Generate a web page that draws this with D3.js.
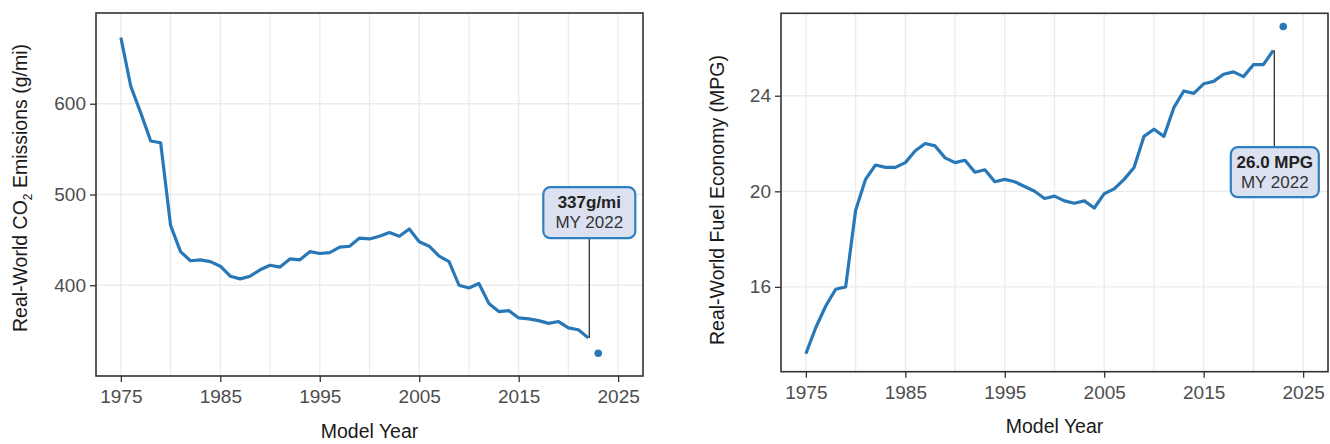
<!DOCTYPE html>
<html>
<head>
<meta charset="utf-8">
<script src="https://cdn.jsdelivr.net/npm/d3@7"></script>
<style>
  body { margin: 0; background: #fff; }
  svg { font-family: "Liberation Sans", Arial, sans-serif; display: block; }
</style>
</head>
<body>
<div id="chart"></div>
<script>
// model years for the main series
const years = [1975, 1976, 1977, 1978, 1979, 1980, 1981, 1982, 1983, 1984,
  1985, 1986, 1987, 1988, 1989, 1990, 1991, 1992, 1993, 1994,
  1995, 1996, 1997, 1998, 1999, 2000, 2001, 2002, 2003, 2004,
  2005, 2006, 2007, 2008, 2009, 2010, 2011, 2012, 2013, 2014,
  2015, 2016, 2017, 2018, 2019, 2020, 2021, 2022];

// real-world CO2 (g/mi)
const co2Values = [673, 619, 590, 559, 557, 466, 437, 427, 428, 426,
  421, 410, 407, 410, 417, 422, 420, 429, 428, 437,
  435, 436, 442, 443, 452, 451, 454, 458, 454, 462,
  448, 443, 432, 426, 400, 397, 402, 380, 371, 372,
  364, 363, 361, 358, 360, 353, 351, 342];

// real-world fuel economy (MPG)
const mpgValues = [13.2, 14.3, 15.2, 15.9, 16.0, 19.2, 20.5, 21.1, 21.0, 21.0,
  21.2, 21.7, 22.0, 21.9, 21.4, 21.2, 21.3, 20.8, 20.9, 20.4,
  20.5, 20.4, 20.2, 20.0, 19.7, 19.8, 19.6, 19.5, 19.6, 19.3,
  19.9, 20.1, 20.5, 21.0, 22.3, 22.6, 22.3, 23.5, 24.2, 24.1,
  24.5, 24.6, 24.9, 25.0, 24.8, 25.3, 25.3, 25.9];

// preliminary point
const prelimYear = 2023;
const co2Prelim = 325;
const mpgPrelim = 26.9;

// ticks and grid
const xTicks = [1975, 1985, 1995, 2005, 2015, 2025];
const xGrid = [1975, 1980, 1985, 1990, 1995, 2000, 2005, 2010, 2015, 2020, 2025];
const co2Ticks = [400, 500, 600];
const mpgTicks = [16, 20, 24];

// labels
const co2Label = ["337g/mi", "MY 2022"];
const mpgLabel = ["26.0 MPG", "MY 2022"];

const width = 1330;
const height = 444;
const lineColor = "#2878b8";

const svg = d3.select("#chart")
  .append("svg")
  .attr("width", width)
  .attr("height", height);

// one panel = frame, grid, axes, line, dot, label box
function drawPanel(cfg) {
  const x = d3.scaleLinear().domain([1972.5, 2027.5]).range([cfg.left, cfg.right]);
  const y = d3.scaleLinear().domain(cfg.yDomain).range([cfg.bottom, cfg.top]);

  const g = svg.append("g");

  // grid
  g.selectAll(".vgrid")
    .data(xGrid)
    .enter()
    .append("line")
      .attr("x1", d => x(d)).attr("x2", d => x(d))
      .attr("y1", cfg.top).attr("y2", cfg.bottom)
      .attr("stroke", "#ebebeb").attr("stroke-width", 1.3);

  g.selectAll(".hgrid")
    .data(cfg.yTicks)
    .enter()
    .append("line")
      .attr("x1", cfg.left).attr("x2", cfg.right)
      .attr("y1", d => y(d)).attr("y2", d => y(d))
      .attr("stroke", "#ebebeb").attr("stroke-width", 1.3);

  // axes
  const xAxis = g.append("g")
    .attr("transform", `translate(0,${cfg.bottom})`)
    .call(d3.axisBottom(x).tickValues(xTicks).tickFormat(d3.format("d")).tickSize(6).tickPadding(8));
  const yAxis = g.append("g")
    .attr("transform", `translate(${cfg.left},0)`)
    .call(d3.axisLeft(y).tickValues(cfg.yTicks).tickSize(6).tickPadding(4));

  [xAxis, yAxis].forEach(a => {
    a.select(".domain").remove();
    a.selectAll(".tick line").attr("stroke", "#333").attr("stroke-width", 1.3);
    a.selectAll(".tick text")
      .attr("fill", "#4d4d4d")
      .attr("font-size", "19px")
      .attr("font-family", "Liberation Sans, Arial, sans-serif");
  });

  // frame
  g.append("rect")
    .attr("x", cfg.left).attr("y", cfg.top)
    .attr("width", cfg.right - cfg.left).attr("height", cfg.bottom - cfg.top)
    .attr("fill", "none").attr("stroke", "#333").attr("stroke-width", 1.6);

  // the series
  const line = d3.line()
    .x((d, i) => x(years[i]))
    .y(d => y(d));

  g.append("path")
    .datum(cfg.values)
    .attr("d", line)
    .attr("fill", "none")
    .attr("stroke", lineColor)
    .attr("stroke-width", 3.2)
    .attr("stroke-linejoin", "round");

  g.append("circle")
    .attr("cx", x(prelimYear)).attr("cy", y(cfg.prelim))
    .attr("r", 3.8).attr("fill", lineColor);

  // label box with leader line
  const lastX = x(years[years.length - 1]);
  const lastY = y(cfg.values[cfg.values.length - 1]);
  const boxCx = lastX + cfg.boxDx;
  const boxCy = y(cfg.boxValue);
  const boxTop = boxCy - cfg.boxH / 2;
  const boxBottom = boxCy + cfg.boxH / 2;

  g.append("line")
    .attr("x1", lastX + 1).attr("x2", lastX + 1)
    .attr("y1", lastY)
    .attr("y2", lastY > boxCy ? boxBottom : boxTop)
    .attr("stroke", "#333").attr("stroke-width", 1.3);

  g.append("rect")
    .attr("x", boxCx - cfg.boxW / 2).attr("y", boxTop)
    .attr("width", cfg.boxW).attr("height", cfg.boxH)
    .attr("rx", 7)
    .attr("fill", "#dbe1f0")
    .attr("stroke", "#2f7fc1").attr("stroke-width", 2.2);

  g.append("text")
    .attr("x", boxCx).attr("y", boxTop + 21)
    .attr("text-anchor", "middle")
    .attr("font-size", "17px").attr("font-weight", "bold").attr("fill", "#222")
    .text(cfg.label[0]);
  g.append("text")
    .attr("x", boxCx).attr("y", boxTop + 41)
    .attr("text-anchor", "middle")
    .attr("font-size", "17px").attr("fill", "#333")
    .text(cfg.label[1]);

  // axis titles
  g.append("text")
    .attr("x", (cfg.left + cfg.right) / 2).attr("y", cfg.bottom + 61.5)
    .attr("text-anchor", "middle")
    .attr("font-size", "19.5px").attr("fill", "#1a1a1a")
    .text("Model Year");

  const yt = g.append("text")
    .attr("transform", `translate(${cfg.titleX},${cfg.titleY}) rotate(-90)`)
    .attr("text-anchor", "middle")
    .attr("font-size", "19.5px").attr("fill", "#1a1a1a");
  cfg.title(yt);
}

drawPanel({
  left: 96, right: 643, top: 13, bottom: 376,
  yDomain: [300, 700], yTicks: co2Ticks,
  values: co2Values, prelim: co2Prelim,
  label: co2Label, boxValue: 480, boxDx: 1, boxW: 92, boxH: 51,
  titleX: 26.5, titleY: 188,
  title: t => {
    t.append("tspan").text("Real-World CO");
    t.append("tspan").attr("font-size", "12px").attr("dy", 5).text("2");
    t.append("tspan").attr("dy", -5).text(" Emissions (g/mi)");
  }
});

drawPanel({
  left: 781, right: 1328, top: 13.3, bottom: 371.7,
  yDomain: [12.45, 27.45], yTicks: mpgTicks,
  values: mpgValues, prelim: mpgPrelim,
  label: mpgLabel, boxValue: 20.8, boxDx: 1.5, boxW: 88, boxH: 50,
  titleX: 724, titleY: 200,
  title: t => t.text("Real-World Fuel Economy (MPG)")
});
</script>
</body>
</html>
